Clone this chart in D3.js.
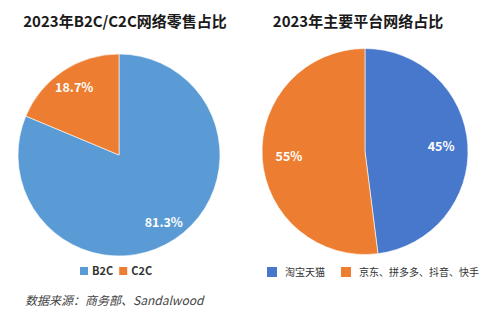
<!DOCTYPE html>
<html>
<head>
<meta charset="utf-8">
<script src="https://cdn.jsdelivr.net/npm/d3@7"></script>
<style>
  body { margin: 0; background: #fff; }
  svg { display: block; font-family: "Noto Sans CJK SC", "Noto Sans", sans-serif; }
</style>
</head>
<body>
<svg id="chart" width="492" height="319"></svg>
<script>
'use strict';

// left pie: 2023 B2C / C2C share of online retail
let retailCategories = ["B2C", "C2C"]
let retailValues = [81.3, 18.7]
let retailLabels = ["81.3%", "18.7%"]

// right pie: main platforms (labels as printed; slice sizes as drawn)
let platformCategories = ["淘宝天猫", "京东、拼多多、抖音、快手"]
let platformValues = [48, 52]
let platformLabels = ["45%", "55%"]

let titles = ["2023年B2C/C2C网络零售占比", "2023年主要平台网络占比"]
let sourceText = "数据来源：商务部、Sandalwood"

let svg = d3.select("#chart")

function drawPie(opts) {
    let g = svg.append("g")
        .attr("transform", "translate(" + opts.cx + "," + opts.cy + ")")

    let color = d3.scaleOrdinal().domain(opts.categories).range(opts.colors)

    let pie = d3.pie().sort(null).value(function(d) { return d.value })
    let arcs = pie(opts.categories.map(function(c, i) {
        return { name: c, value: opts.values[i], label: opts.labels[i] }
    }))

    let arc = d3.arc().innerRadius(0).outerRadius(opts.r)
    let labelArc = d3.arc().innerRadius(opts.r * opts.labelR).outerRadius(opts.r * opts.labelR)

    g.selectAll("path")
        .data(arcs)
        .enter().append("path")
        .attr("d", arc)
        .attr("fill", function(d) { return color(d.data.name) })
        .attr("stroke", "#fff")
        .attr("stroke-width", 0.6)

    g.selectAll("text")
        .data(arcs)
        .enter().append("text")
        .attr("transform", function(d) { return "translate(" + labelArc.centroid(d) + ")" })
        .attr("text-anchor", "middle")
        .attr("dy", "0.35em")
        .attr("fill", "#fff")
        .attr("font-size", 12.5)
        .attr("font-weight", "bold")
        .text(function(d) { return d.data.label })

    return color
}

function drawLegend(items, color, o) {
    let lg = svg.append("g").attr("transform", "translate(" + o.x + "," + o.y + ")")
    let offset = 0
    items.forEach(function(name) {
        let item = lg.append("g").attr("transform", "translate(" + offset + ",0)")
        item.append("rect")
            .attr("x", 0).attr("y", -o.size / 2)
            .attr("width", o.size).attr("height", o.size)
            .attr("fill", color(name))
        let t = item.append("text")
            .attr("x", o.textX)
            .attr("dy", "0.35em")
            .attr("font-size", o.fontSize)
            .attr("font-weight", o.weight)
            .attr("fill", "#333")
            .text(name)
        offset += o.textX + t.node().getComputedTextLength() + o.gap
    })
}

// titles
svg.selectAll("text.title")
    .data(titles)
    .enter().append("text")
    .attr("class", "title")
    .attr("x", function(d, i) { return i === 0 ? 125 : 358 })
    .attr("y", 22)
    .attr("dy", "0.35em")
    .attr("text-anchor", "middle")
    .attr("font-size", 15)
    .attr("font-weight", "bold")
    .attr("fill", "#1a1a1a")
    .text(function(d) { return d })

let leftColor = drawPie({
    cx: 119, cy: 155, r: 101,
    categories: retailCategories, values: retailValues, labels: retailLabels,
    colors: ["#5b9bd5", "#ed7d31"], labelR: 0.8
})

let rightColor = drawPie({
    cx: 365, cy: 151.5, r: 103,
    categories: platformCategories, values: platformValues, labels: platformLabels,
    colors: ["#4878cc", "#ed7d31"], labelR: 0.74
})

drawLegend(retailCategories, leftColor,
    { x: 80, y: 271, size: 8, textX: 12, fontSize: 11, weight: "bold", gap: 6 })
drawLegend(platformCategories, rightColor,
    { x: 267, y: 272, size: 10, textX: 18, fontSize: 10, weight: "normal", gap: 16 })

svg.append("text")
    .attr("x", 25)
    .attr("y", 301)
    .attr("dy", "0.35em")
    .attr("font-size", 12)
    .attr("font-style", "italic")
    .attr("fill", "#444")
    .text(sourceText)
</script>
</body>
</html>
